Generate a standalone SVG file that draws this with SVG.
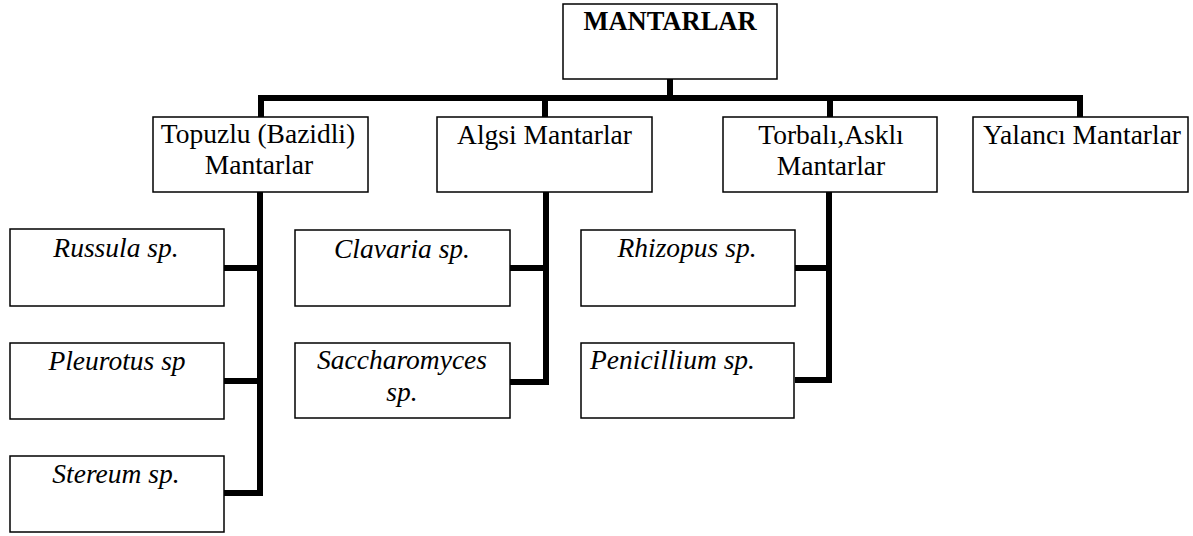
<svg xmlns="http://www.w3.org/2000/svg" width="1193" height="536" viewBox="0 0 1193 536">
<style>
.box{fill:#fff;stroke:#000;stroke-width:1.5}
.t{font-family:"Liberation Serif","Times New Roman",serif;font-size:27.5px;fill:#000;text-anchor:middle}
.i{font-style:italic}
.b{font-weight:bold}
.c{fill:none;stroke:#000;stroke-width:6;stroke-linejoin:miter;stroke-linecap:butt}
</style>
<rect width="1193" height="536" fill="#fff"/>
<g id="connectors">
<path class="c" d="M670,79 V98"/>
<path class="c" d="M261,117 V98 H1080 V117"/>
<path class="c" d="M545,98 V117 M830,98 V117"/>
<path class="c" d="M260,192 V493 H224 M224,268 H260 M224,381 H260"/>
<path class="c" d="M546,192 V382 H510 M510,268 H546"/>
<path class="c" d="M829,192 V380 H795 M795,268 H829"/>
</g>
<g id="mantarlar">
<rect class="box" x="563" y="4" width="214" height="75"/>
<text class="t b" x="670" y="30" style="font-size:26.5px">MANTARLAR</text>
</g>
<g id="topuzlu">
<rect class="box" x="153" y="117" width="215" height="75"/>
<text class="t" x="258" y="143">Topuzlu (Bazidli)</text>
<text class="t" x="259" y="174">Mantarlar</text>
</g>
<g id="algsi">
<rect class="box" x="437" y="117" width="215" height="75"/>
<text class="t" x="544.5" y="144">Algsi Mantarlar</text>
</g>
<g id="torbali">
<rect class="box" x="723" y="117" width="214" height="75"/>
<text class="t" x="831" y="144">Torbalı,Asklı</text>
<text class="t" x="831" y="175">Mantarlar</text>
</g>
<g id="yalanci">
<rect class="box" x="973" y="117" width="215" height="75"/>
<text class="t" x="1082" y="144">Yalancı Mantarlar</text>
</g>
<g id="russula">
<rect class="box" x="10" y="229" width="214" height="77"/>
<text class="t i" x="116" y="257">Russula sp.</text>
</g>
<g id="pleurotus">
<rect class="box" x="10" y="343" width="214" height="76"/>
<text class="t i" x="117" y="370">Pleurotus sp</text>
</g>
<g id="stereum">
<rect class="box" x="10" y="456" width="214" height="76"/>
<text class="t i" x="116" y="483">Stereum sp.</text>
</g>
<g id="clavaria">
<rect class="box" x="295" y="230" width="215" height="76"/>
<text class="t i" x="402" y="258">Clavaria sp.</text>
</g>
<g id="saccharomyces">
<rect class="box" x="295" y="343" width="215" height="75"/>
<text class="t i" x="402" y="369">Saccharomyces</text>
<text class="t i" x="402" y="401">sp.</text>
</g>
<g id="rhizopus">
<rect class="box" x="581" y="230" width="214" height="76"/>
<text class="t i" x="687" y="257">Rhizopus sp.</text>
</g>
<g id="penicillium">
<rect class="box" x="581" y="343" width="213" height="75"/>
<text class="t i" x="590" y="369" style="text-anchor:start">Penicillium sp.</text>
</g>
</svg>
